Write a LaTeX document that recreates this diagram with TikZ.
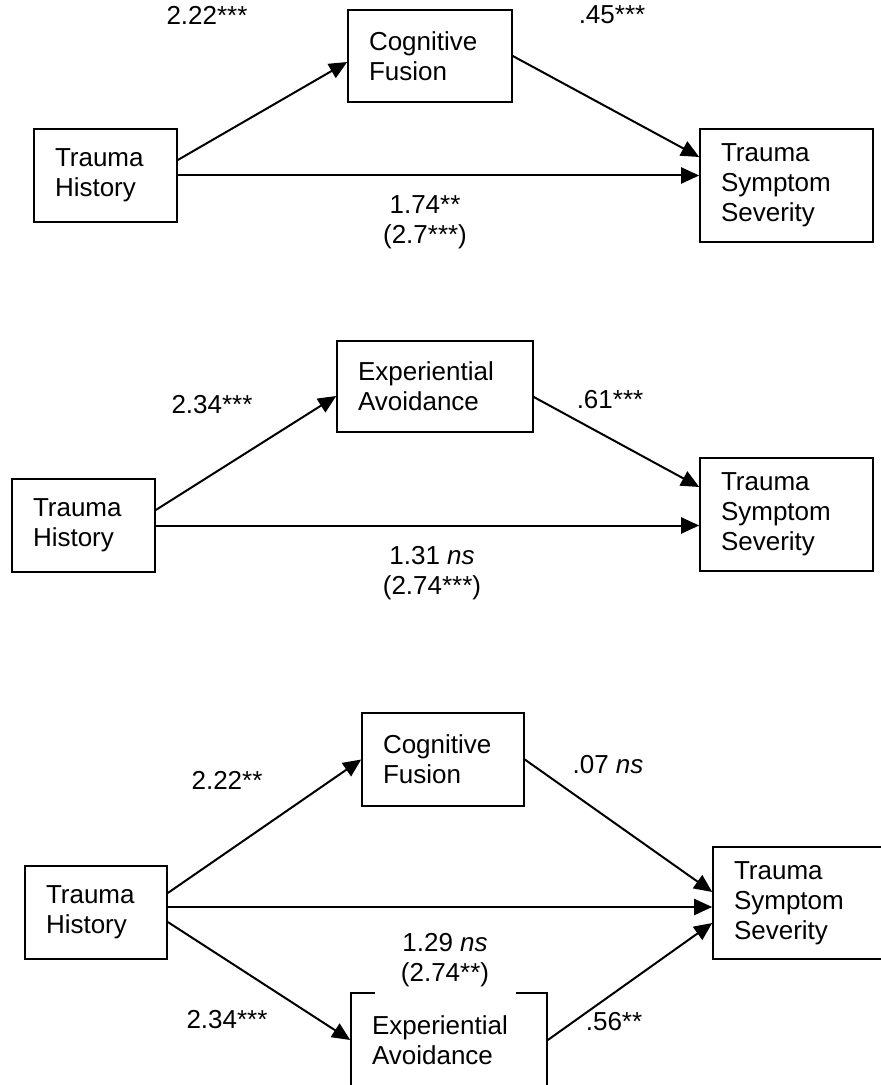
\documentclass[tikz,border=0pt]{standalone}
\usepackage{fontspec}
\setmainfont{Liberation Sans}
\usetikzlibrary{arrows.meta}
\begin{document}
\begin{tikzpicture}[
  x = 0.5pt, y = -0.5pt,
  every node/.style = {font = \fontsize{13}{15}\selectfont},
  box/.style = {rectangle, draw, line width = 0.8pt, align = left, inner xsep = 10.5pt, inner ysep = 0pt},
  coef/.style = {inner sep = 1pt, align = center},
  link/.style = {line width = 1pt, -{Triangle[length = 9pt, width = 8pt]}}
]
  \useasboundingbox (0, 0) rectangle (881, 1085);
  \clip (0, 0) rectangle (881, 1085);

  % model 1
  \node[box, text width = 61pt,   minimum height = 46pt]   (cf1)  at (430,   56)    {Cognitive\\Fusion};
  \node[box, text width = 50.5pt, minimum height = 46.5pt] (th1)  at (105.5, 175.5) {Trauma\\History};
  \node[box, text width = 65.5pt, minimum height = 56.5pt] (tss1) at (786.5, 185.5) {Trauma\\Symptom\\Severity};

  \draw[link] ([yshift = 7.75pt]th1.east) -- ([yshift = -3pt]cf1.west);
  \draw[link] (cf1.east) -- ([yshift = 14.25pt]tss1.west);
  \draw[link] (th1.east) -- (th1.east -| tss1.west);

  \node[coef] (a1) at (207, 15)  {2.22***};
  \node[coef] (b1) at (612, 15)  {.45***};
  \node[coef] (c1) at (425, 222) {1.74**\\(2.7***)};

  % model 2
  \node[box, text width = 77pt,   minimum height = 45.5pt] (ea2)  at (435,   386.5) {Experiential\\Avoidance};
  \node[box, text width = 50.5pt, minimum height = 46.5pt] (th2)  at (83.5,  525.5) {Trauma\\History};
  \node[box, text width = 65.5pt, minimum height = 56.5pt] (tss2) at (786.5, 514.5) {Trauma\\Symptom\\Severity};

  \draw[link] ([yshift = 7.75pt]th2.east) -- ([yshift = -4.75pt]ea2.west);
  \draw[link] ([yshift = -5.25pt]ea2.east) -- ([yshift = 13.75pt]tss2.west);
  \draw[link] (th2.east) -- (th2.east -| tss2.west);

  \node[coef] (a2) at (212, 405) {2.34***};
  \node[coef] (b2) at (610, 400) {.61***};
  \node[coef] (c2) at (432, 573) {1.31 \textit{ns}\\(2.74***)};

  % model 3
  \node[box, text width = 60pt,   minimum height = 46.5pt] (cf3)  at (443,   759.5) {Cognitive\\Fusion};
  \node[box, text width = 50pt,   minimum height = 46.5pt] (th3)  at (96,    912.5) {Trauma\\History};
  \node[box, text width = 65.5pt, minimum height = 56pt]   (tss3) at (799.5, 903)   {Trauma\\Symptom\\Severity};
  \node[box, text width = 77pt,   minimum height = 47pt]   (ea3)  at (449,   1040)  {Experiential\\Avoidance};

  \draw[link] ([yshift = 9.75pt]th3.east) -- (cf3.west);
  \draw[link] (cf3.east) -- ([yshift = 5.5pt]tss3.west);
  \draw[link] ([yshift = 2.75pt]th3.east) -- ([yshift = 2.75pt]th3.east -| tss3.west);
  \draw[link] ([yshift = -4.75pt]th3.east) -- (ea3.west);
  \draw[link] (ea3.east) -- ([yshift = -10pt]tss3.west);

  \node[coef] (a3) at (227, 780)  {2.22**};
  \node[coef] (b3) at (608, 765)  {.07 \textit{ns}};
  \node[coef] (d3) at (227, 1020) {2.34***};
  \node[coef] (e3) at (614, 1022) {.56**};
  \node[coef, fill = white, minimum width = 70.5pt, minimum height = 36pt] (c3) at (445, 960) {1.29 \textit{ns}\\(2.74**)};
\end{tikzpicture}
\end{document}
